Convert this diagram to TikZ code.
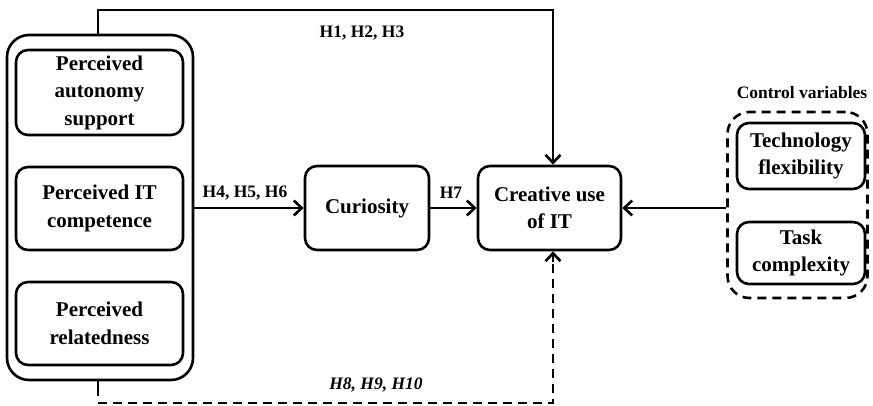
\documentclass[tikz,border=0pt]{standalone}
\usepackage{fontspec}
\setmainfont{Liberation Serif}
\usetikzlibrary{arrows.meta}
\begin{document}
\begin{tikzpicture}[x=1pt,y=-1pt,
  line width=2.6pt,
  varbox/.style={draw,rounded corners=12pt,align=center,inner sep=0pt,
    font=\fontsize{21}{27.5}\selectfont\bfseries},
  groupbox/.style={draw,rounded corners=22pt,inner sep=0pt},
  hlabel/.style={font=\fontsize{17.5}{21}\selectfont\bfseries,inner sep=0pt},
  tip/.tip={Straight Barb[length=8pt,width=15pt,line width=2.6pt]},
  link/.style={-tip},
  dashline/.style={dash pattern=on 9pt off 6pt}]
\useasboundingbox (0,0) rectangle (873,406);

% independent variables
\node[groupbox,minimum width=186pt,minimum height=345pt] (grp) at (100,207.5) {};
\node[varbox,minimum width=167pt,minimum height=85pt] (aut) at (99.5,92.5)
  {Perceived\\autonomy\\support};
\node[varbox,minimum width=167pt,minimum height=83pt] (comp) at (99.5,208.5)
  {Perceived IT\\competence};
\node[varbox,minimum width=167pt,minimum height=83pt] (rel) at (99.5,323.5)
  {Perceived\\relatedness};

% mediator and outcome
\node[varbox,minimum width=124pt,minimum height=84pt] (cur) at (367,208) {Curiosity};
\node[varbox,minimum width=143pt,minimum height=84pt] (cre) at (549.5,208)
  {Creative use\\of IT};

% control variables
\node[groupbox,dashline,minimum width=140pt,minimum height=186pt] (ctrl) at (797.5,205) {};
\node[varbox,minimum width=128pt,minimum height=66pt] (tech) at (801,156)
  {Technology\\flexibility};
\node[varbox,minimum width=128pt,minimum height=62pt] (task) at (801,253)
  {Task\\complexity};
\node[hlabel] (ctrllab) at (802,93) {Control variables};

% connectors
\coordinate (topL) at (98,10);
\coordinate (topR) at (553,10);
\coordinate (botR) at (553,403);
\coordinate (dashEnd) at (553,262);
\draw[link] (grp.north -| topL) -- (topL) -- (topR) -- (topR |- cre.north);
\draw (grp.south -| topL) -- (98,396);
\draw[dashline] (98,403) -- (botR) -- (dashEnd);
\draw[link] (dashEnd) -- (dashEnd |- cre.south);
\draw[link] (grp.east |- cur.west) -- (cur.west);
\draw[link] (cur.east) -- (cre.west);
\draw[link] (ctrl.west |- cre.east) -- (cre.east);

% hypothesis labels
\node[hlabel] (h123) at (362,33) {H1, H2, H3};
\node[hlabel] (h456) at (245,193) {H4, H5, H6};
\node[hlabel] (h7) at (451,193) {H7};
\node[hlabel,font=\fontsize{17.5}{21}\selectfont\bfseries\itshape] (h8910) at (376,385) {H8, H9, H10};
\end{tikzpicture}
\end{document}
